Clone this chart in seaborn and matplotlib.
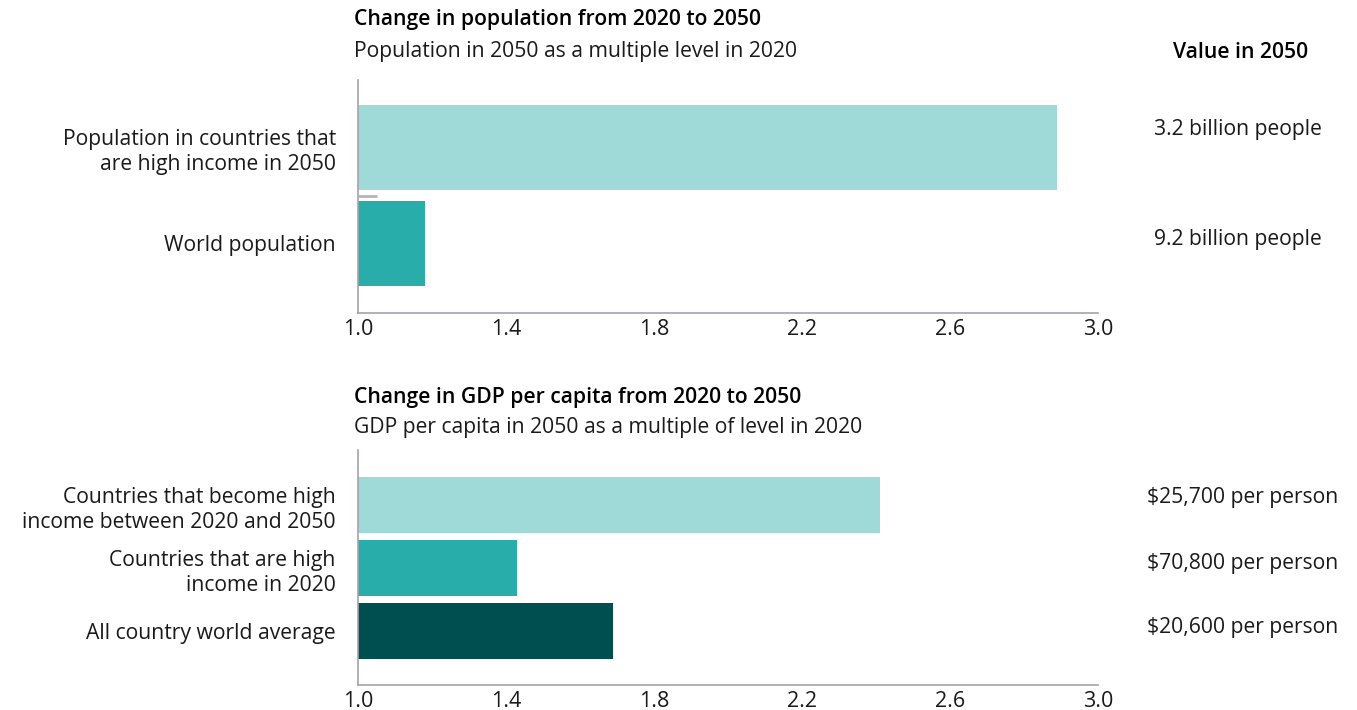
import matplotlib
matplotlib.use("Agg")
import matplotlib.pyplot as plt
import seaborn as sns
import pandas as pd

# Population block
pop_labels = ["Population in countries that\nare high income in 2050", "World population"]
pop_multiple = [2.89, 1.18]
pop_value_2050 = ["3.2 billion people", "9.2 billion people"]
pop_marker = 1.05  # short grey reference stub between the two bars

# GDP per capita block
gdp_labels = ["Countries that become high\nincome between 2020 and 2050",
              "Countries that are high\nincome in 2020",
              "All country world average"]
gdp_multiple = [2.41, 1.43, 1.69]
gdp_value_2050 = ["$25,700 per person", "$70,800 per person", "$20,600 per person"]

x_ticks = [1.0, 1.4, 1.8, 2.2, 2.6, 3.0]

pop_colors = ["#A0DAD8", "#28ADAA"]
gdp_colors = ["#A0DAD8", "#28ADAA", "#004F50"]

sns.set_theme(style="white")
plt.rcParams["font.family"] = ["Open Sans", "DejaVu Sans"]
TXT = "#1a1a1a"
SPINE = "#a3a3ab"
FS = 15.2

W, H = 1357, 710
fig = plt.figure(figsize=(W / 100, H / 100), dpi=100)
ax1 = fig.add_axes([358 / W, 1 - 313 / H, 740 / W, 233 / H])
ax2 = fig.add_axes([358 / W, 1 - 685 / H, 740 / W, 235 / H])


def draw(ax, labels, values, colors, ylim):
    df = pd.DataFrame({"label": labels, "value": values})
    sns.barplot(data=df, x="value", y="label", hue="label", palette=colors,
                orient="h", width=0.89, legend=False, ax=ax, saturation=1)
    # bars start at 1.0 (multiple of 2020 level)
    for patch in ax.patches:
        w = patch.get_width()
        patch.set_x(1.0)
        patch.set_width(w - 1.0)
        patch.set_edgecolor("none")
    ax.set_xlim(1.0, 3.0)
    ax.set_ylim(*ylim)
    ax.set_xticks(x_ticks)
    ax.set_xticklabels([f"{t:.1f}" for t in x_ticks], fontsize=15.5, color=TXT)
    ax.tick_params(axis="x", direction="in", length=6, width=1, color=SPINE, pad=4)
    ax.tick_params(axis="y", length=0, pad=16)
    ax.set_yticks(range(len(labels)))
    ax.set_yticklabels(labels, fontsize=FS, color=TXT, ha="right",
                       multialignment="right", linespacing=1.25)
    ax.set_xlabel("")
    ax.set_ylabel("")
    for side in ["top", "right"]:
        ax.spines[side].set_visible(False)
    for side in ["left", "bottom"]:
        ax.spines[side].set_color(SPINE)
        ax.spines[side].set_linewidth(1.2)


draw(ax1, pop_labels, pop_multiple, pop_colors, (1.728, -0.712))
ax1.hlines(0.5, 1.0, pop_marker, color="#b4b4bc", linewidth=2)
draw(ax2, gdp_labels, gdp_multiple, gdp_colors, (2.857, -0.873))

# value-in-2050 column
for t, yp in zip(pop_value_2050, [130, 240]):
    fig.text(1322 / W, 1 - yp / H, t, ha="right", va="center", fontsize=FS, color=TXT)
for t, yp in zip(gdp_value_2050, [498, 563, 627]):
    fig.text(1338 / W, 1 - yp / H, t, ha="right", va="center", fontsize=FS, color=TXT)

fig.text(354 / W, 1 - 20 / H, "Change in population from 2020 to 2050",
         fontsize=FS, fontweight="semibold", color="#000000", va="center")
fig.text(354 / W, 1 - 52 / H, "Population in 2050 as a multiple level in 2020",
         fontsize=FS, color=TXT, va="center")
fig.text(1308 / W, 1 - 52 / H, "Value in 2050",
         fontsize=FS, fontweight="semibold", color="#000000", va="center", ha="right")
fig.text(354 / W, 1 - 397 / H, "Change in GDP per capita from 2020 to 2050",
         fontsize=FS, fontweight="semibold", color="#000000", va="center")
fig.text(354 / W, 1 - 428 / H, "GDP per capita in 2050 as a multiple of level in 2020",
         fontsize=FS, color=TXT, va="center")

fig.savefig("out.png", dpi=100, facecolor="white")
